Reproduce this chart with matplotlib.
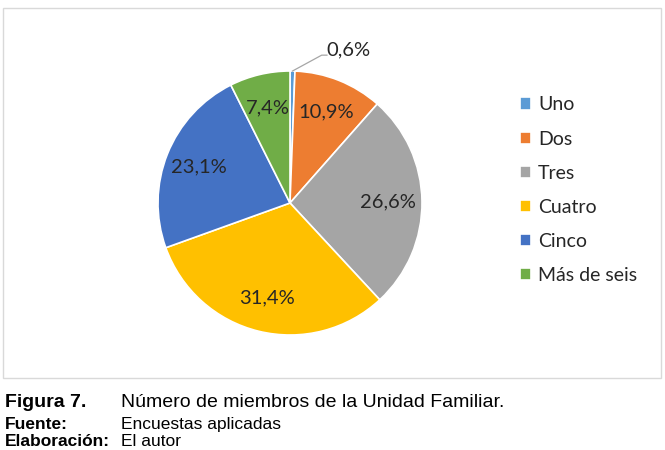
import numpy as np
import matplotlib.pyplot as plt
from matplotlib.patches import Rectangle

labels = ["Uno", "Dos", "Tres", "Cuatro", "Cinco", "Más de seis"]
values = [0.6, 10.9, 26.6, 31.4, 23.1, 7.4]
colors = ["#5B9BD5", "#ED7D31", "#A5A5A5", "#FFC000", "#4472C4", "#70AD47"]

W, H = 665, 450
cx, cy, R = 290, 203, 132  # pie centre / radius in pixels
lim = 1.3


def main():
    fig = plt.figure(figsize=(W / 100, H / 100), dpi=100)
    fig.patch.set_facecolor("white")

    # chart frame
    fig.patches.append(Rectangle((3 / W, 1 - 378 / H), 658 / W, 370 / H,
                                 transform=fig.transFigure, fill=False,
                                 edgecolor="#D9D9D9", linewidth=1))

    side = 2 * lim * R
    ax = fig.add_axes([(cx - lim * R) / W, (H - cy - lim * R) / H, side / W, side / H])

    def fmt(p):
        return ("%.1f%%" % p).replace(".", ",")

    wedges, texts, autotexts = ax.pie(values, colors=colors, startangle=90,
                                      counterclock=False, autopct=fmt,
                                      pctdistance=0.74,
                                      wedgeprops=dict(edgecolor="white", linewidth=1.2),
                                      textprops=dict(fontsize=14.5, color="#262626",
                                                     family="Lato"))
    ax.set_xlim(-lim, lim)
    ax.set_ylim(-lim, lim)
    ax.set_aspect("equal")

    # small slice label moved outside with a leader line
    autotexts[0].set_visible(False)
    ang = np.deg2rad(90 - values[0] / 2 * 3.6)
    x0, y0 = np.cos(ang), np.sin(ang)
    ax.plot([x0, 0.24, 0.28], [y0, 1.12, 1.12], color="#A6A6A6", lw=0.9,
            clip_on=False)
    ax.text(0.44, 1.16, fmt(values[0]), ha="center", va="center",
            fontsize=14.5, color="#262626", family="Lato")

    fig.legend(wedges, labels, loc="upper left",
               bbox_to_anchor=(502 / W, 1 - 79 / H), frameon=False,
               prop=dict(family="Lato", size=14), labelcolor="#262626",
               handlelength=0.6, handleheight=0.6, handletextpad=0.35,
               labelspacing=0.88)

    # caption
    rows = [("Figura 7.", "Número de miembros de la Unidad Familiar.", 407, 14),
            ("Fuente:", "Encuestas aplicadas", 429, 12.5),
            ("Elaboración:", "El autor", 446, 12.5)]
    for head, body, y, fs in rows:
        fig.text(5 / W, 1 - y / H, head, fontsize=fs, fontweight="bold",
                 family="Liberation Sans", va="baseline")
        fig.text(121 / W, 1 - y / H, body, fontsize=fs,
                 family="Liberation Sans", va="baseline")

    fig.savefig("out.png", dpi=100)


if __name__ == "__main__":
    main()
